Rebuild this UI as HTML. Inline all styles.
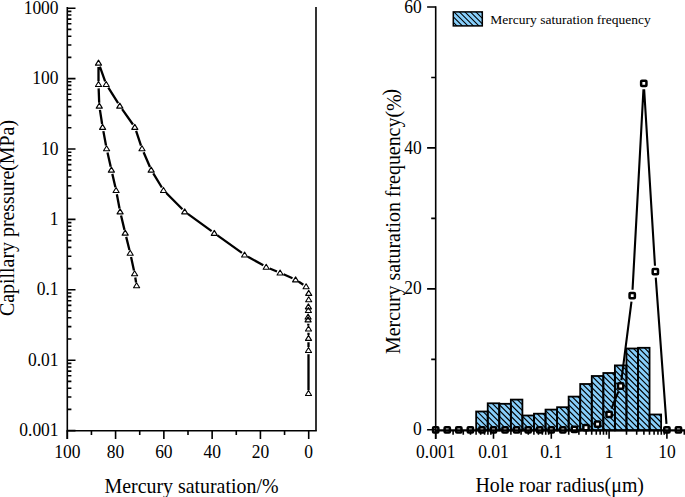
<!DOCTYPE html>
<html><head><meta charset="utf-8"><title>chart</title>
<style>html,body{margin:0;padding:0;background:#fff;width:685px;height:497px;overflow:hidden}svg{display:block}text{fill:#000}</style>
</head><body>
<svg width="685" height="497" viewBox="0 0 685 497" font-family='"Liberation Serif", serif'><line x1="67.3" y1="7.0" x2="67.3" y2="439" stroke="#000" stroke-width="1.6"/>
<line x1="66.5" y1="430.7" x2="316.8" y2="430.7" stroke="#000" stroke-width="1.6"/>
<line x1="316.0" y1="7.0" x2="316.0" y2="430.7" stroke="#000" stroke-width="1.6"/>
<path d="M67.3 430.60h8.2 M67.3 409.41h4.1 M67.3 397.01h4.1 M67.3 388.21h4.1 M67.3 381.39h4.1 M67.3 375.82h4.1 M67.3 371.11h4.1 M67.3 367.02h4.1 M67.3 363.42h4.1 M67.3 360.20h8.2 M67.3 339.01h4.1 M67.3 326.61h4.1 M67.3 317.81h4.1 M67.3 310.99h4.1 M67.3 305.42h4.1 M67.3 300.71h4.1 M67.3 296.62h4.1 M67.3 293.02h4.1 M67.3 289.80h8.2 M67.3 268.61h4.1 M67.3 256.21h4.1 M67.3 247.41h4.1 M67.3 240.59h4.1 M67.3 235.02h4.1 M67.3 230.31h4.1 M67.3 226.22h4.1 M67.3 222.62h4.1 M67.3 219.40h8.2 M67.3 198.21h4.1 M67.3 185.81h4.1 M67.3 177.01h4.1 M67.3 170.19h4.1 M67.3 164.62h4.1 M67.3 159.91h4.1 M67.3 155.82h4.1 M67.3 152.22h4.1 M67.3 149.00h8.2 M67.3 127.81h4.1 M67.3 115.41h4.1 M67.3 106.61h4.1 M67.3 99.79h4.1 M67.3 94.22h4.1 M67.3 89.51h4.1 M67.3 85.42h4.1 M67.3 81.82h4.1 M67.3 78.60h8.2 M67.3 57.41h4.1 M67.3 45.01h4.1 M67.3 36.21h4.1 M67.3 29.39h4.1 M67.3 23.82h4.1 M67.3 19.11h4.1 M67.3 15.02h4.1 M67.3 11.42h4.1 M67.3 8.20h8.2 M308.70 430.7v8.3 M284.56 430.7v4.2 M260.42 430.7v8.3 M236.28 430.7v4.2 M212.14 430.7v8.3 M188.00 430.7v4.2 M163.86 430.7v8.3 M139.72 430.7v4.2 M115.58 430.7v8.3 M91.44 430.7v4.2 M67.30 430.7v8.3" stroke="#000" stroke-width="1.6" fill="none"/>
<text transform="translate(58.6,13.70) scale(0.94,1)" text-anchor="end" font-size="18.6">1000</text>
<text transform="translate(58.6,84.10) scale(0.94,1)" text-anchor="end" font-size="18.6">100</text>
<text transform="translate(58.6,154.50) scale(0.94,1)" text-anchor="end" font-size="18.6">10</text>
<text transform="translate(58.6,224.90) scale(0.94,1)" text-anchor="end" font-size="18.6">1</text>
<text transform="translate(58.6,295.30) scale(0.94,1)" text-anchor="end" font-size="18.6">0.1</text>
<text transform="translate(58.6,365.70) scale(0.94,1)" text-anchor="end" font-size="18.6">0.01</text>
<text transform="translate(58.6,436.10) scale(0.94,1)" text-anchor="end" font-size="18.6">0.001</text>
<text transform="translate(308.70,458.4) scale(0.94,1)" text-anchor="middle" font-size="18.6">0</text>
<text transform="translate(260.42,458.4) scale(0.94,1)" text-anchor="middle" font-size="18.6">20</text>
<text transform="translate(212.14,458.4) scale(0.94,1)" text-anchor="middle" font-size="18.6">40</text>
<text transform="translate(163.86,458.4) scale(0.94,1)" text-anchor="middle" font-size="18.6">60</text>
<text transform="translate(115.58,458.4) scale(0.94,1)" text-anchor="middle" font-size="18.6">80</text>
<text transform="translate(67.30,458.4) scale(0.94,1)" text-anchor="middle" font-size="18.6">100</text>
<text transform="translate(14,218) rotate(-90)" text-anchor="middle" font-size="19.9">Capillary pressure(MPa)</text>
<text x="191.5" y="492.7" text-anchor="middle" font-size="19.9">Mercury saturation/%</text>
<path d="M99.88 66.73L105.14 81.36 M108.34 87.70L118.11 103.22 M122.11 109.16L132.96 124.50 M136.10 130.96L141.00 145.54 M143.60 152.22L149.96 167.02 M153.28 173.34L161.86 187.49 M166.27 193.00L182.43 209.31 M187.83 213.87L211.64 231.17 M217.44 235.35L241.93 252.89 M247.93 256.68L263.30 265.36 M269.67 268.45L276.98 271.50 M283.55 274.32L292.51 278.25 M298.82 281.71L303.34 284.69 M308.28 323.70L308.36 325.60 M308.50 332.80L308.50 335.00 M308.50 342.20L308.50 347.10 M308.50 354.30L308.50 390.20 M98.50 67.00L98.50 81.20 M98.65 88.40L99.19 102.80 M99.93 109.94L102.12 124.03 M103.35 131.12L106.03 145.45 M107.49 152.49L110.72 166.86 M112.32 173.88L115.40 187.17 M116.85 194.22L119.53 208.55 M121.05 215.57L124.48 229.87 M126.19 236.86L129.45 249.98 M131.06 257.00L133.95 270.46 M135.27 277.54L136.09 282.44" fill="none" stroke="#000" stroke-width="2.3" stroke-linecap="butt"/>
<path d="M98.50 60.15L101.55 65.15L95.45 65.15Z M106.20 81.55L109.25 86.55L103.15 86.55Z M119.80 103.15L122.85 108.15L116.75 108.15Z M134.80 124.35L137.85 129.35L131.75 129.35Z M142.00 145.75L145.05 150.75L138.95 150.75Z M151.20 167.15L154.25 172.15L148.15 172.15Z M163.50 187.45L166.55 192.45L160.45 192.45Z M184.70 208.85L187.75 213.85L181.65 213.85Z M214.30 230.35L217.35 235.35L211.25 235.35Z M244.60 252.05L247.65 257.05L241.55 257.05Z M266.20 264.25L269.25 269.25L263.15 269.25Z M280.10 270.05L283.15 275.05L277.05 275.05Z M295.60 276.85L298.65 281.85L292.55 281.85Z M306.10 283.75L309.15 288.75L303.05 288.75Z M308.70 290.35L311.75 295.35L305.65 295.35Z M308.70 296.75L311.75 301.75L305.65 301.75Z M308.40 303.85L311.45 308.85L305.35 308.85Z M308.40 307.55L311.45 312.55L305.35 312.55Z M308.10 314.05L311.15 319.05L305.05 319.05Z M308.10 316.85L311.15 321.85L305.05 321.85Z M308.50 325.95L311.55 330.95L305.45 330.95Z M308.50 335.35L311.55 340.35L305.45 340.35Z M308.50 347.45L311.55 352.45L305.45 352.45Z M308.50 390.55L311.55 395.55L305.45 395.55Z M98.50 81.55L101.55 86.55L95.45 86.55Z M99.30 103.15L102.35 108.15L96.25 108.15Z M102.60 124.35L105.65 129.35L99.55 129.35Z M106.60 145.75L109.65 150.75L103.55 150.75Z M111.40 167.15L114.45 172.15L108.35 172.15Z M116.10 187.45L119.15 192.45L113.05 192.45Z M120.10 208.85L123.15 213.85L117.05 213.85Z M125.20 230.15L128.25 235.15L122.15 235.15Z M130.20 250.25L133.25 255.25L127.15 255.25Z M134.60 270.75L137.65 275.75L131.55 275.75Z M136.60 282.75L139.65 287.75L133.55 287.75Z" fill="#fff" stroke="#000" stroke-width="1.1" stroke-linejoin="round"/>
<defs><clipPath id="bc"><rect x="476.16" y="411.50" width="11.56" height="18.85"/><rect x="487.72" y="403.30" width="11.56" height="27.05"/><rect x="499.28" y="403.80" width="11.56" height="26.55"/><rect x="510.84" y="399.60" width="11.56" height="30.75"/><rect x="522.40" y="415.50" width="11.56" height="14.85"/><rect x="533.96" y="413.70" width="11.56" height="16.65"/><rect x="545.52" y="409.60" width="11.56" height="20.75"/><rect x="557.08" y="407.20" width="11.56" height="23.15"/><rect x="568.64" y="396.60" width="11.56" height="33.75"/><rect x="580.20" y="384.00" width="11.56" height="46.35"/><rect x="591.76" y="376.00" width="11.56" height="54.35"/><rect x="603.32" y="373.00" width="11.56" height="57.35"/><rect x="614.88" y="365.40" width="11.56" height="64.95"/><rect x="626.44" y="348.50" width="11.56" height="81.85"/><rect x="638.00" y="347.80" width="11.56" height="82.55"/><rect x="649.56" y="414.50" width="11.56" height="15.85"/></clipPath><clipPath id="lc"><rect x="453.3" y="11.9" width="29" height="14"/></clipPath></defs>
<g fill="#87cefa"><rect x="476.16" y="411.50" width="11.56" height="18.85"/><rect x="487.72" y="403.30" width="11.56" height="27.05"/><rect x="499.28" y="403.80" width="11.56" height="26.55"/><rect x="510.84" y="399.60" width="11.56" height="30.75"/><rect x="522.40" y="415.50" width="11.56" height="14.85"/><rect x="533.96" y="413.70" width="11.56" height="16.65"/><rect x="545.52" y="409.60" width="11.56" height="20.75"/><rect x="557.08" y="407.20" width="11.56" height="23.15"/><rect x="568.64" y="396.60" width="11.56" height="33.75"/><rect x="580.20" y="384.00" width="11.56" height="46.35"/><rect x="591.76" y="376.00" width="11.56" height="54.35"/><rect x="603.32" y="373.00" width="11.56" height="57.35"/><rect x="614.88" y="365.40" width="11.56" height="64.95"/><rect x="626.44" y="348.50" width="11.56" height="81.85"/><rect x="638.00" y="347.80" width="11.56" height="82.55"/><rect x="649.56" y="414.50" width="11.56" height="15.85"/></g>
<path clip-path="url(#bc)" d="M369.15 338.00L465.15 434.00 M374.92 338.00L470.92 434.00 M380.69 338.00L476.69 434.00 M386.46 338.00L482.46 434.00 M392.23 338.00L488.23 434.00 M398.00 338.00L494.00 434.00 M403.77 338.00L499.77 434.00 M409.54 338.00L505.54 434.00 M415.31 338.00L511.31 434.00 M421.08 338.00L517.08 434.00 M426.85 338.00L522.85 434.00 M432.62 338.00L528.62 434.00 M438.39 338.00L534.39 434.00 M444.16 338.00L540.16 434.00 M449.93 338.00L545.93 434.00 M455.70 338.00L551.70 434.00 M461.47 338.00L557.47 434.00 M467.24 338.00L563.24 434.00 M473.01 338.00L569.01 434.00 M478.78 338.00L574.78 434.00 M484.55 338.00L580.55 434.00 M490.32 338.00L586.32 434.00 M496.09 338.00L592.09 434.00 M501.86 338.00L597.86 434.00 M507.63 338.00L603.63 434.00 M513.40 338.00L609.40 434.00 M519.17 338.00L615.17 434.00 M524.94 338.00L620.94 434.00 M530.71 338.00L626.71 434.00 M536.48 338.00L632.48 434.00 M542.25 338.00L638.25 434.00 M548.02 338.00L644.02 434.00 M553.79 338.00L649.79 434.00 M559.56 338.00L655.56 434.00 M565.33 338.00L661.33 434.00 M571.10 338.00L667.10 434.00 M576.87 338.00L672.87 434.00 M582.64 338.00L678.64 434.00 M588.41 338.00L684.41 434.00 M594.18 338.00L690.18 434.00 M599.95 338.00L695.95 434.00 M605.72 338.00L701.72 434.00 M611.49 338.00L707.49 434.00 M617.26 338.00L713.26 434.00 M623.03 338.00L719.03 434.00 M628.80 338.00L724.80 434.00 M634.57 338.00L730.57 434.00 M640.34 338.00L736.34 434.00 M646.11 338.00L742.11 434.00 M651.88 338.00L747.88 434.00 M657.65 338.00L753.65 434.00 M663.42 338.00L759.42 434.00 M669.19 338.00L765.19 434.00" stroke="#000" stroke-width="1.15" fill="none"/>
<g fill="none" stroke="#000" stroke-width="1.8"><rect x="476.16" y="411.50" width="11.56" height="18.85"/><rect x="487.72" y="403.30" width="11.56" height="27.05"/><rect x="499.28" y="403.80" width="11.56" height="26.55"/><rect x="510.84" y="399.60" width="11.56" height="30.75"/><rect x="522.40" y="415.50" width="11.56" height="14.85"/><rect x="533.96" y="413.70" width="11.56" height="16.65"/><rect x="545.52" y="409.60" width="11.56" height="20.75"/><rect x="557.08" y="407.20" width="11.56" height="23.15"/><rect x="568.64" y="396.60" width="11.56" height="33.75"/><rect x="580.20" y="384.00" width="11.56" height="46.35"/><rect x="591.76" y="376.00" width="11.56" height="54.35"/><rect x="603.32" y="373.00" width="11.56" height="57.35"/><rect x="614.88" y="365.40" width="11.56" height="64.95"/><rect x="626.44" y="348.50" width="11.56" height="81.85"/><rect x="638.00" y="347.80" width="11.56" height="82.55"/><rect x="649.56" y="414.50" width="11.56" height="15.85"/></g>
<path d="M602.96 419.56L603.68 418.94 M611.45 408.55L618.31 391.75 M621.41 380.12L631.47 301.58 M632.54 289.80L643.46 89.30 M644.14 89.30L654.98 265.80 M655.77 277.59L666.47 423.91" fill="none" stroke="#000" stroke-width="2.1"/>
<g fill="#fff" stroke="#000" stroke-width="2.5"><rect x="433.05" y="427.15" width="5.3" height="5.3" rx="0.8"/><rect x="444.61" y="427.15" width="5.3" height="5.3" rx="0.8"/><rect x="456.17" y="427.15" width="5.3" height="5.3" rx="0.8"/><rect x="467.73" y="427.15" width="5.3" height="5.3" rx="0.8"/><rect x="479.29" y="427.15" width="5.3" height="5.3" rx="0.8"/><rect x="490.85" y="427.15" width="5.3" height="5.3" rx="0.8"/><rect x="502.41" y="427.15" width="5.3" height="5.3" rx="0.8"/><rect x="513.97" y="427.15" width="5.3" height="5.3" rx="0.8"/><rect x="525.53" y="427.15" width="5.3" height="5.3" rx="0.8"/><rect x="537.09" y="427.15" width="5.3" height="5.3" rx="0.8"/><rect x="548.65" y="427.15" width="5.3" height="5.3" rx="0.8"/><rect x="560.21" y="427.15" width="5.3" height="5.3" rx="0.8"/><rect x="571.77" y="426.65" width="5.3" height="5.3" rx="0.8"/><rect x="583.33" y="425.05" width="5.3" height="5.3" rx="0.8"/><rect x="594.89" y="421.55" width="5.3" height="5.3" rx="0.8"/><rect x="606.45" y="411.65" width="5.3" height="5.3" rx="0.8"/><rect x="618.01" y="383.35" width="5.3" height="5.3" rx="0.8"/><rect x="629.57" y="293.05" width="5.3" height="5.3" rx="0.8"/><rect x="641.13" y="80.75" width="5.3" height="5.3" rx="0.8"/><rect x="652.69" y="269.05" width="5.3" height="5.3" rx="0.8"/><rect x="664.25" y="427.15" width="5.3" height="5.3" rx="0.8"/><rect x="675.81" y="427.15" width="5.3" height="5.3" rx="0.8"/></g>
<line x1="435.7" y1="6.3" x2="435.7" y2="439" stroke="#000" stroke-width="1.6"/>
<line x1="435.7" y1="430.35" x2="685" y2="430.35" stroke="#000" stroke-width="2.2"/>
<path d="M435.7 429.80h-8.6 M435.7 359.33h-4.5 M435.7 288.86h-8.6 M435.7 218.39h-4.5 M435.7 147.92h-8.6 M435.7 77.45h-4.5 M435.7 6.98h-8.6 M435.70 430.35v8.5 M453.10 430.35v4.3 M463.28 430.35v4.3 M470.50 430.35v4.3 M476.10 430.35v4.3 M480.68 430.35v4.3 M484.55 430.35v4.3 M487.90 430.35v4.3 M490.86 430.35v4.3 M493.50 430.35v8.5 M510.90 430.35v4.3 M521.08 430.35v4.3 M528.30 430.35v4.3 M533.90 430.35v4.3 M538.48 430.35v4.3 M542.35 430.35v4.3 M545.70 430.35v4.3 M548.66 430.35v4.3 M551.30 430.35v8.5 M568.70 430.35v4.3 M578.88 430.35v4.3 M586.10 430.35v4.3 M591.70 430.35v4.3 M596.28 430.35v4.3 M600.15 430.35v4.3 M603.50 430.35v4.3 M606.46 430.35v4.3 M609.10 430.35v8.5 M626.50 430.35v4.3 M636.68 430.35v4.3 M643.90 430.35v4.3 M649.50 430.35v4.3 M654.08 430.35v4.3 M657.95 430.35v4.3 M661.30 430.35v4.3 M664.26 430.35v4.3 M666.90 430.35v8.5 M684.30 430.35v4.3" stroke="#000" stroke-width="1.6" fill="none"/>
<text transform="translate(421.8,435.40) scale(0.94,1)" text-anchor="end" font-size="18.6">0</text>
<text transform="translate(421.8,294.46) scale(0.94,1)" text-anchor="end" font-size="18.6">20</text>
<text transform="translate(421.8,153.52) scale(0.94,1)" text-anchor="end" font-size="18.6">40</text>
<text transform="translate(421.8,12.58) scale(0.94,1)" text-anchor="end" font-size="18.6">60</text>
<text transform="translate(435.70,458.3) scale(0.94,1)" text-anchor="middle" font-size="18.6">0.001</text>
<text transform="translate(493.50,458.3) scale(0.94,1)" text-anchor="middle" font-size="18.6">0.01</text>
<text transform="translate(551.30,458.3) scale(0.94,1)" text-anchor="middle" font-size="18.6">0.1</text>
<text transform="translate(609.10,458.3) scale(0.94,1)" text-anchor="middle" font-size="18.6">1</text>
<text transform="translate(666.90,458.3) scale(0.94,1)" text-anchor="middle" font-size="18.6">10</text>
<text transform="translate(399.6,221.4) rotate(-90)" text-anchor="middle" font-size="19.9">Mercury saturation frequency(<tspan dy="1.3">%</tspan><tspan dx="-1" dy="-3.8">)</tspan></text>
<text x="559.7" y="492.4" text-anchor="middle" font-size="19.9">Hole roar radius(μm)</text>
<rect x="453.3" y="11.9" width="29" height="14" fill="#87cefa"/>
<path clip-path="url(#lc)" d="M429.00 9.00L449.00 29.00 M434.50 9.00L454.50 29.00 M440.00 9.00L460.00 29.00 M445.50 9.00L465.50 29.00 M451.00 9.00L471.00 29.00 M456.50 9.00L476.50 29.00 M462.00 9.00L482.00 29.00 M467.50 9.00L487.50 29.00 M473.00 9.00L493.00 29.00 M478.50 9.00L498.50 29.00 M484.00 9.00L504.00 29.00 M489.50 9.00L509.50 29.00" stroke="#000" stroke-width="1.05" fill="none"/>
<rect x="453.3" y="11.9" width="29" height="14" fill="none" stroke="#000" stroke-width="1.5"/>
<text x="490.3" y="23.9" font-size="13.5">Mercury saturation frequency</text></svg>
</body></html>
